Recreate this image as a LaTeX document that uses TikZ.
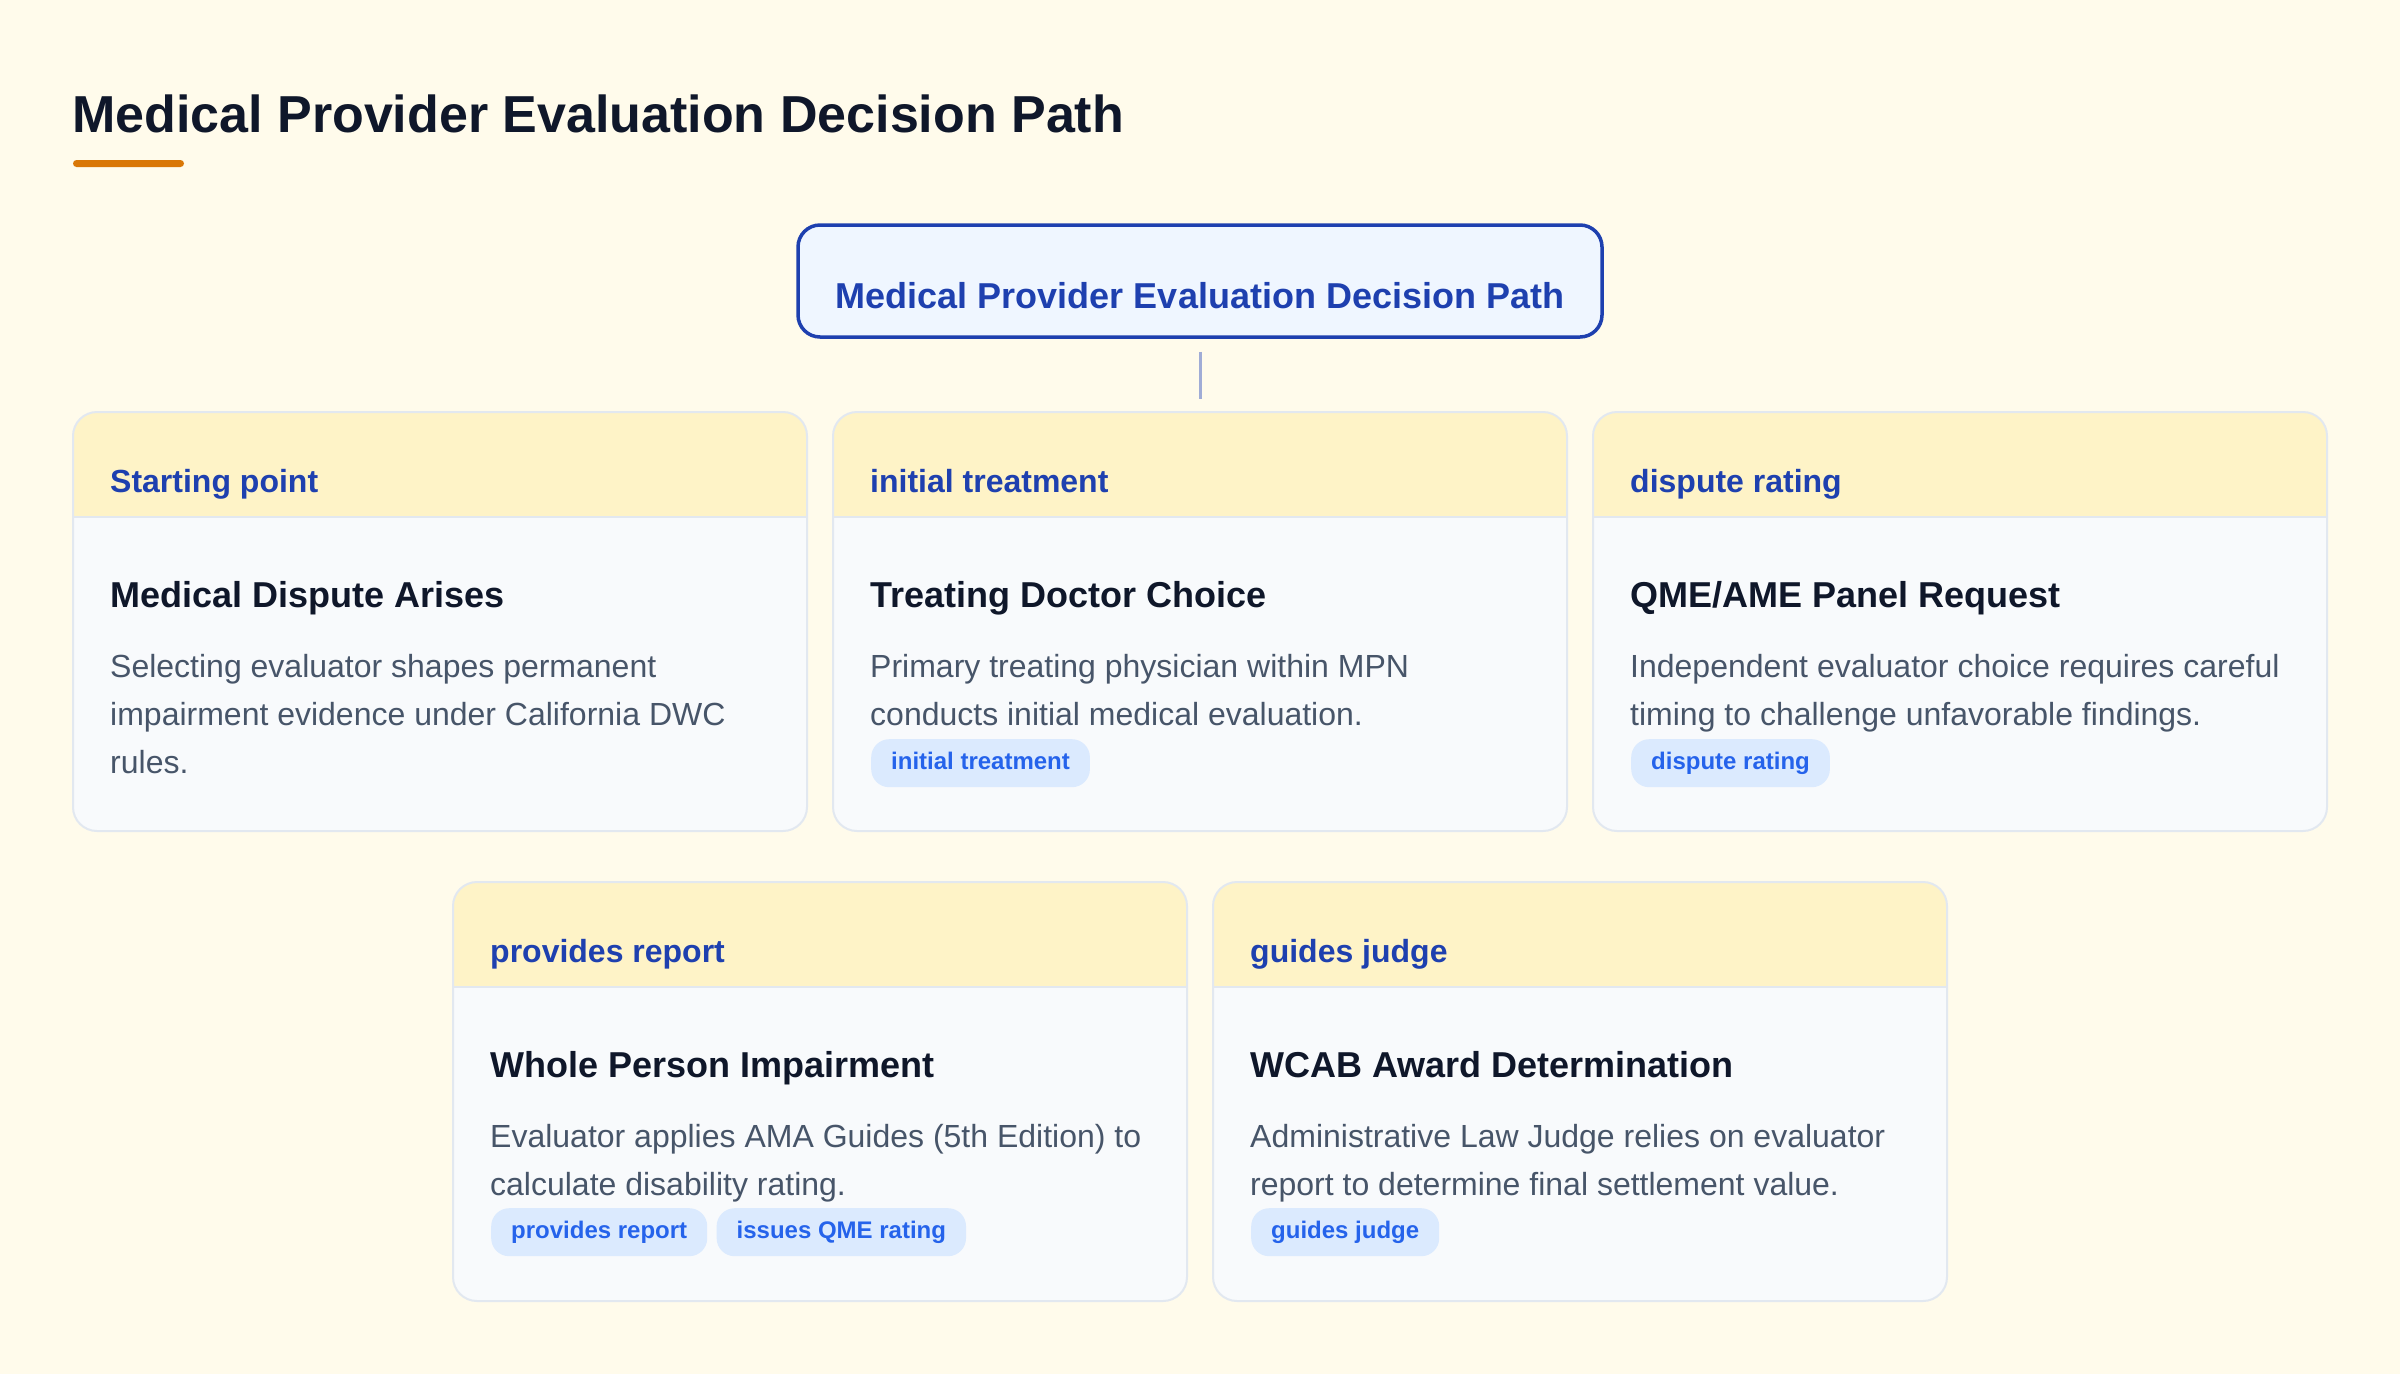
\documentclass[tikz,border=0pt]{standalone}
\usepackage{fontspec}
\setmainfont{Liberation Sans}
\usetikzlibrary{positioning}

\definecolor{bgcream}{HTML}{FFFBEB}
\definecolor{ink}{HTML}{0F172A}
\definecolor{accent}{HTML}{D97706}
\definecolor{rootblue}{HTML}{1E40AF}
\definecolor{rootfill}{HTML}{EFF6FF}
\definecolor{linkblue}{RGB}{160,172,214}
\definecolor{cardline}{HTML}{E2E8F0}
\definecolor{cardfill}{HTML}{F8FAFC}
\definecolor{headfill}{HTML}{FEF3C7}
\definecolor{slate}{HTML}{475569}
\definecolor{tagfill}{HTML}{DBEAFE}
\definecolor{tagblue}{HTML}{2563EB}

\tikzset{
    maintitle/.style={anchor=base west, inner sep=0pt, text=ink, font=\fontsize{52}{62}\selectfont\bfseries},
    rootbox/.style={draw=rootblue, fill=rootfill, line width=3.5pt, rounded corners=22pt, minimum width=804pt, minimum height=112pt, inner sep=0pt},
    roottext/.style={anchor=base, inner sep=0pt, text=rootblue, font=\fontsize{36}{44}\selectfont\bfseries},
    link/.style={draw=linkblue, line width=3pt, shorten <=13pt, shorten >=12pt},
    cardbody/.style={fill=cardfill},
    cardhead/.style={fill=headfill},
    cardrule/.style={draw=cardline, line width=2pt},
    cardframe/.style={draw=cardline, line width=2pt, rounded corners=24pt, minimum width=734pt, minimum height=419pt, inner sep=0pt},
    headtext/.style={anchor=base west, inner sep=0pt, text=rootblue, font=\fontsize{32}{40}\selectfont\bfseries},
    cardtitle/.style={anchor=base west, inner sep=0pt, text=ink, font=\fontsize{36}{44}\selectfont\bfseries},
    carddesc/.style={anchor=north west, inner sep=0pt, align=left, text=slate, font=\fontsize{32}{48}\selectfont},
    tag/.style={anchor=north west, fill=tagfill, text=tagblue, rounded corners=18pt, inner xsep=20pt, inner ysep=0pt, minimum height=48pt, text height=17pt, text depth=5pt, font=\fontsize{24}{28}\selectfont\bfseries},
}

\begin{document}
\begin{tikzpicture}[x=1pt, y=-1pt]

    % Background
    \fill [bgcream] (0, 0) rectangle (2400, 1374);
    \useasboundingbox (0, 0) rectangle (2400, 1374);

    % Heading
    \node [maintitle] (title) at (72, 132) {Medical Provider Evaluation Decision Path};
    \fill [accent, rounded corners=3.5pt] (73, 160) rectangle (184, 167);

    % Root box
    \node [rootbox] (root) at (1200, 281) {};
    \node [roottext] (rootlabel) at (1200, 308) {Medical Provider Evaluation Decision Path};

    % Cards
    \foreach \name/\x/\y/\head in {dispute/73/412/Starting point, doctor/833/412/initial treatment, panel/1593/412/dispute rating, impair/453/882/provides report, award/1213/882/guides judge} {
            \begin{scope}
                \clip [rounded corners=24pt] (\x, \y) rectangle ++(734, 419);
                \fill [cardbody] (\x, \y) rectangle ++(734, 419);
                \fill [cardhead] (\x, \y) rectangle ++(734, 105);
                \draw [cardrule] (\x, \y + 105) -- ++(734, 0);
            \end{scope}
            \node [cardframe] (\name) at (\x + 367, \y + 209.5) {};
            \node [headtext] (\name-head) at (\x + 37, \y + 80) {\head};
        }

    % Link
    \draw [link] (root) -- (doctor);

    % Card titles
    \node [cardtitle] (dispute-title) at (110, 607) {Medical Dispute Arises};
    \node [cardtitle] (doctor-title) at (870, 607) {Treating Doctor Choice};
    \node [cardtitle] (panel-title) at (1630, 607) {QME/AME Panel Request};
    \node [cardtitle] (impair-title) at (490, 1077) {Whole Person Impairment};
    \node [cardtitle] (award-title) at (1250, 1077) {WCAB Award Determination};

    % Descriptions
    \node [carddesc] (dispute-desc) at (110, 654) {Selecting evaluator shapes permanent\\impairment evidence under California DWC\\rules.};
    \node [carddesc] (doctor-desc) at (870, 654) {Primary treating physician within MPN\\conducts initial medical evaluation.};
    \node [carddesc] (panel-desc) at (1630, 654) {Independent evaluator choice requires careful\\timing to challenge unfavorable findings.};
    \node [carddesc] (impair-desc) at (490, 1124) {Evaluator applies AMA Guides (5th Edition) to\\calculate disability rating.};
    \node [carddesc] (award-desc) at (1250, 1124) {Administrative Law Judge relies on evaluator\\report to determine final settlement value.};

    % Tags
    \node [tag] (doctor-tag) at (871, 739) {initial treatment};
    \node [tag] (panel-tag) at (1631, 739) {dispute rating};
    \node [tag] (impair-tag1) at (491, 1208) {provides report};
    \node [tag, right=9pt of impair-tag1] (impair-tag2) {issues QME rating};
    \node [tag] (award-tag) at (1251, 1208) {guides judge};

\end{tikzpicture}
\end{document}
